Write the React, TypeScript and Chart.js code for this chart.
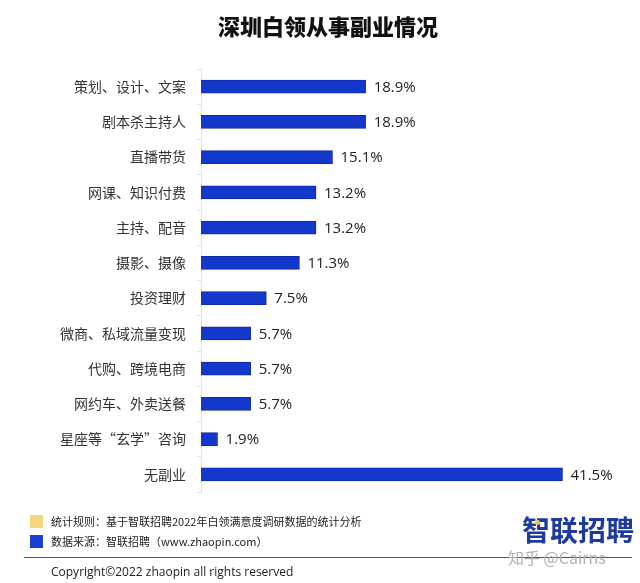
import React, { useEffect, useRef } from "react";
import { Chart, registerables } from "chart.js";

Chart.register(...registerables);

const title = "深圳白领从事副业情况";
const categories = [
  "策划、设计、文案",
  "剧本杀主持人",
  "直播带货",
  "网课、知识付费",
  "主持、配音",
  "摄影、摄像",
  "投资理财",
  "微商、私域流量变现",
  "代购、跨境电商",
  "网约车、外卖送餐",
  "星座等“玄学”咨询",
  "无副业",
];
const values = [18.9, 18.9, 15.1, 13.2, 13.2, 11.3, 7.5, 5.7, 5.7, 5.7, 1.9, 41.5];
const noteRule = "统计规则：基于智联招聘2022年白领满意度调研数据的统计分析";
const noteSource = "数据来源：智联招聘（www.zhaopin.com）";
const copyright = "Copyright©2022 zhaopin all rights reserved";
const logoText = "智联招聘";
const watermark = "知乎 @Cairns";

const valueLabelPlugin = {
  id: "valueLabels",
  afterDatasetsDraw(chart: any) {
    const ctx = chart.ctx;
    const meta = chart.getDatasetMeta(0);
    ctx.save();
    ctx.font = '15px "Open Sans", "Noto Sans", sans-serif';
    ctx.fillStyle = "#222";
    ctx.textAlign = "left";
    ctx.textBaseline = "middle";
    meta.data.forEach((el: any, i: number) => {
      ctx.fillText(values[i].toFixed(1) + "%", el.x + 8, el.y + 1);
    });
    ctx.restore();
  },
};

export default function App() {
  const ref = useRef<HTMLCanvasElement | null>(null);
  useEffect(() => {
    if (!ref.current) return;
    const chart = new Chart(ref.current, {
      type: "bar",
      data: {
        labels: categories,
        datasets: [
          {
            data: values,
            backgroundColor: "#1538cc",
            borderColor: "#0e2aa8",
            borderWidth: 1,
            barThickness: 13,
          },
        ],
      },
      options: {
        indexAxis: "y",
        animation: false,
        responsive: false,
        maintainAspectRatio: false,
        layout: { padding: { left: 0, right: 47, top: 69, bottom: 91 } },
        plugins: {
          legend: { display: false },
          tooltip: { enabled: false },
          title: { display: false },
        },
        scales: {
          x: { display: false, min: 0, max: 45 },
          y: {
            afterFit(scale: any) {
              scale.width = 201;
            },
            border: { display: true, color: "#e2e2e2" },
            grid: {
              display: true,
              offset: true,
              drawOnChartArea: false,
              drawTicks: true,
              tickLength: 4,
              color: "#e2e2e2",
            },
            ticks: {
              padding: 11,
              color: "#333",
              font: { family: '"Noto Sans CJK SC", sans-serif', size: 14 },
            },
          },
        },
      },
      plugins: [valueLabelPlugin],
    } as any);
    return () => chart.destroy();
  }, []);

  const cjk = '"Noto Sans CJK SC", sans-serif';
  return (
    <div style={{ position: "absolute", left: 0, top: 0, width: 640, height: 583, background: "#fff", overflow: "hidden" }}>
      <canvas ref={ref} width={640} height={583} style={{ position: "absolute", left: 0, top: 0, width: 640, height: 583 }} />
      <div
        style={{
          position: "absolute",
          left: 0,
          width: 656,
          top: 10,
          textAlign: "center",
          fontFamily: cjk,
          fontWeight: 900,
          fontSize: 22,
          lineHeight: "30px",
          color: "#111",
        }}
      >
        {title}
      </div>
      <div style={{ position: "absolute", left: 30, top: 515, width: 13, height: 13, background: "#f6d67c" }} />
      <div style={{ position: "absolute", left: 30, top: 535, width: 13, height: 13, background: "#1a3fd6" }} />
      <div style={{ position: "absolute", left: 51, top: 513, fontFamily: cjk, fontSize: 11, lineHeight: "16px", color: "#222", whiteSpace: "nowrap" }}>
        {noteRule}
      </div>
      <div style={{ position: "absolute", left: 51, top: 533, fontFamily: cjk, fontSize: 11, lineHeight: "16px", color: "#222", whiteSpace: "nowrap" }}>
        {noteSource}
      </div>
      <div style={{ position: "absolute", left: 24, top: 557, width: 608, height: 1, background: "#555" }} />
      <div style={{ position: "absolute", left: 51, top: 563, fontFamily: '"Open Sans", "Noto Sans", sans-serif', fontSize: 12, lineHeight: "18px", color: "#222", whiteSpace: "nowrap" }}>
        {copyright}
      </div>
      <div style={{ position: "absolute", left: 522, top: 511, fontFamily: cjk, fontWeight: 700, fontSize: 28, lineHeight: "36px", color: "#1d3b9e", whiteSpace: "nowrap" }}>
        {logoText}
      </div>
      <div style={{ position: "absolute", left: 535, top: 520, width: 5, height: 5, borderRadius: 3, background: "#f2c94c" }} />
      <div style={{ position: "absolute", left: 508, top: 546, fontFamily: cjk, fontSize: 16, lineHeight: "22px", color: "#b0b0b0", whiteSpace: "nowrap" }}>
        {watermark}
      </div>
    </div>
  );
}
